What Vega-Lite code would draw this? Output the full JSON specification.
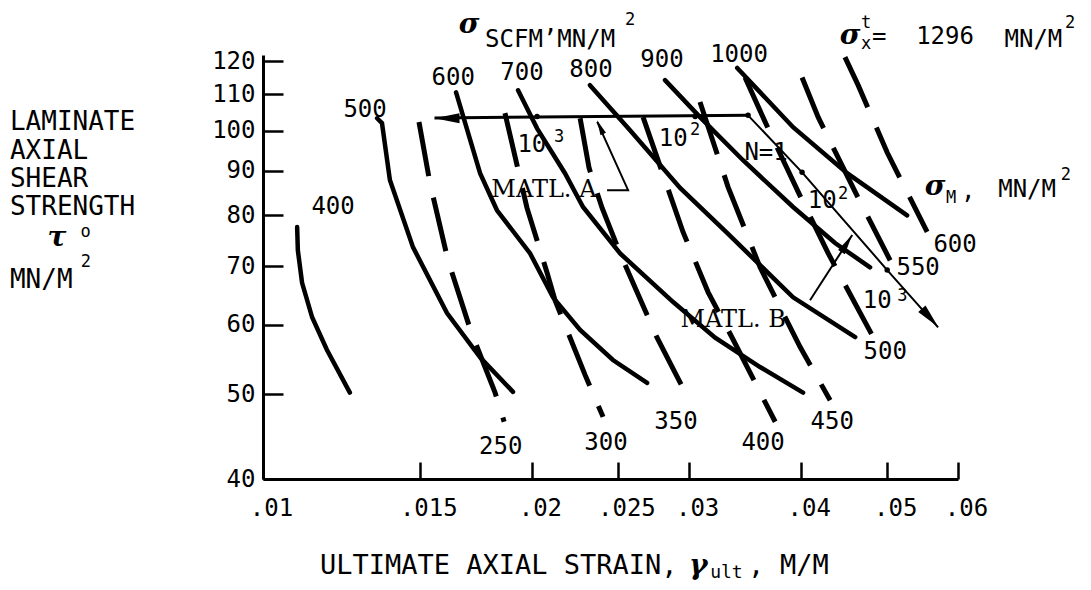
{
  "$schema": "https://vega.github.io/schema/vega-lite/v6.json",
  "width": 695,
  "height": 424,
  "autosize": {"type": "none"},
  "padding": {"left": 263, "top": 55, "right": 133, "bottom": 111},
  "background": "white",
  "config": {"view": {"stroke": null}, "axis": {"grid": false}},
  "datasets": {
    "scfm": [
      {"id": "400", "x": 0.01092, "y": 77.6}, {"id": "400", "x": 0.01094, "y": 73.0}, {"id": "400", "x": 0.01106, "y": 67.0}, {"id": "400", "x": 0.01135, "y": 61.2}, {"id": "400", "x": 0.01179, "y": 56.2}, {"id": "400", "x": 0.01251, "y": 50.2},
      {"id": "500", "x": 0.01342, "y": 103.3}, {"id": "500", "x": 0.01359, "y": 102.0}, {"id": "500", "x": 0.01387, "y": 87.8}, {"id": "500", "x": 0.01472, "y": 73.6}, {"id": "500", "x": 0.01607, "y": 61.9}, {"id": "500", "x": 0.0175, "y": 55.1}, {"id": "500", "x": 0.01905, "y": 50.3},
      {"id": "600", "x": 0.01645, "y": 110.6}, {"id": "600", "x": 0.0175, "y": 89.4}, {"id": "600", "x": 0.01828, "y": 81.1}, {"id": "600", "x": 0.01991, "y": 72.4}, {"id": "600", "x": 0.02112, "y": 64.5}, {"id": "600", "x": 0.02265, "y": 59.2}, {"id": "600", "x": 0.02465, "y": 54.7}, {"id": "600", "x": 0.02692, "y": 51.5},
      {"id": "700", "x": 0.0193, "y": 111.2}, {"id": "700", "x": 0.02027, "y": 100.6}, {"id": "700", "x": 0.02178, "y": 89.4}, {"id": "700", "x": 0.02282, "y": 81.8}, {"id": "700", "x": 0.02511, "y": 72.4}, {"id": "700", "x": 0.02879, "y": 63.7}, {"id": "700", "x": 0.03208, "y": 58.0}, {"id": "700", "x": 0.03602, "y": 53.7}, {"id": "700", "x": 0.04024, "y": 50.2},
      {"id": "800", "x": 0.02323, "y": 112.7}, {"id": "800", "x": 0.02576, "y": 100.1}, {"id": "800", "x": 0.02931, "y": 86.0}, {"id": "800", "x": 0.03317, "y": 76.2}, {"id": "800", "x": 0.03922, "y": 64.5}, {"id": "800", "x": 0.04603, "y": 58.1},
      {"id": "900", "x": 0.02819, "y": 114.2}, {"id": "900", "x": 0.03085, "y": 103.6}, {"id": "900", "x": 0.03447, "y": 92.5}, {"id": "900", "x": 0.03922, "y": 81.8}, {"id": "900", "x": 0.0437, "y": 74.4}, {"id": "900", "x": 0.04783, "y": 69.8},
      {"id": "1000", "x": 0.03396, "y": 117.9}, {"id": "1000", "x": 0.03922, "y": 100.9}, {"id": "1000", "x": 0.04508, "y": 89.4}, {"id": "1000", "x": 0.05262, "y": 80.0}
    ],
    "sm": [
      {"id": "250", "x": 0.01495, "y": 102.3}, {"id": "250", "x": 0.01538, "y": 87.1}, {"id": "250", "x": 0.01611, "y": 71.1}, {"id": "250", "x": 0.0171, "y": 58.9}, {"id": "250", "x": 0.01819, "y": 50.2}, {"id": "250", "x": 0.01862, "y": 46.5},
      {"id": "300", "x": 0.01866, "y": 104.7}, {"id": "300", "x": 0.01975, "y": 81.6}, {"id": "300", "x": 0.0208, "y": 68.8}, {"id": "300", "x": 0.02123, "y": 64.0}, {"id": "300", "x": 0.02294, "y": 52.6}, {"id": "300", "x": 0.02403, "y": 47.1},
      {"id": "350", "x": 0.02265, "y": 103.3}, {"id": "350", "x": 0.02318, "y": 90.6}, {"id": "350", "x": 0.02397, "y": 81.6}, {"id": "350", "x": 0.02511, "y": 72.4}, {"id": "350", "x": 0.02762, "y": 58.0}, {"id": "350", "x": 0.03007, "y": 49.0},
      {"id": "400", "x": 0.02664, "y": 103.6}, {"id": "400", "x": 0.02953, "y": 76.6}, {"id": "400", "x": 0.0315, "y": 65.4}, {"id": "400", "x": 0.03352, "y": 58.0}, {"id": "400", "x": 0.03745, "y": 46.5},
      {"id": "450", "x": 0.03085, "y": 107.8}, {"id": "450", "x": 0.03317, "y": 86.2}, {"id": "450", "x": 0.03602, "y": 69.8}, {"id": "450", "x": 0.03994, "y": 56.6}, {"id": "450", "x": 0.04315, "y": 49.2},
      {"id": "500", "x": 0.03465, "y": 115.0}, {"id": "500", "x": 0.03677, "y": 100.6}, {"id": "500", "x": 0.04014, "y": 83.3}, {"id": "500", "x": 0.04294, "y": 72.4}, {"id": "500", "x": 0.04821, "y": 58.1},
      {"id": "550", "x": 0.04014, "y": 115.0}, {"id": "550", "x": 0.04184, "y": 103.6}, {"id": "550", "x": 0.04603, "y": 85.1}, {"id": "550", "x": 0.05037, "y": 71.1},
      {"id": "600", "x": 0.04483, "y": 121.3}, {"id": "600", "x": 0.04638, "y": 112.7}, {"id": "600", "x": 0.04999, "y": 94.4}, {"id": "600", "x": 0.05541, "y": 76.6}
    ],
    "arrows": [
      {"id": "A", "x": 0.01556, "y": 103.4}, {"id": "A", "x": 0.03492, "y": 104.1},
      {"id": "B", "x": 0.03492, "y": 104.1}, {"id": "B", "x": 0.04014, "y": 89.6}, {"id": "B", "x": 0.04999, "y": 69.3}, {"id": "B", "x": 0.057, "y": 59.6},
      {"id": "pA", "x": 0.02428, "y": 85.5}, {"id": "pA", "x": 0.02563, "y": 85.5}, {"id": "pA", "x": 0.02367, "y": 102.3},
      {"id": "pB", "x": 0.04097, "y": 64.0}, {"id": "pB", "x": 0.04568, "y": 76.0}
    ],
    "heads": [
      {"id": "hA", "x": 0.01607, "y": 103.3},
      {"id": "hB", "x": 0.05583, "y": 61.1},
      {"id": "hpA", "x": 0.02385, "y": 100.9},
      {"id": "hpB", "x": 0.04504, "y": 74.3}
    ],
    "dots": [
      {"x": 0.03492, "y": 104.1}, {"x": 0.04014, "y": 89.6}, {"x": 0.04999, "y": 69.3}, {"x": 0.02027, "y": 103.8}, {"x": 0.03047, "y": 103.8}
    ],
    "labels": [
      {"t": "400", "x": 0.01198, "y": 81.8, "k": "num"},
      {"t": "500", "x": 0.01301, "y": 105.5, "k": "num"},
      {"t": "600", "x": 0.01633, "y": 114.8, "k": "num"},
      {"t": "700", "x": 0.0195, "y": 116.3, "k": "num"},
      {"t": "800", "x": 0.02329, "y": 117.2, "k": "num"},
      {"t": "900", "x": 0.02797, "y": 120.3, "k": "num"},
      {"t": "1000", "x": 0.03412, "y": 121.9, "k": "num"},
      {"t": "250", "x": 0.01846, "y": 43.5, "k": "num"},
      {"t": "300", "x": 0.02421, "y": 44.0, "k": "num"},
      {"t": "350", "x": 0.029, "y": 46.5, "k": "num"},
      {"t": "400", "x": 0.0363, "y": 44.0, "k": "num"},
      {"t": "450", "x": 0.04338, "y": 46.5, "k": "num"},
      {"t": "500", "x": 0.04973, "y": 55.9, "k": "num"},
      {"t": "550", "x": 0.05414, "y": 69.7, "k": "num"},
      {"t": "600", "x": 0.05955, "y": 74.0, "k": "num"},
      {"t": "N=1", "x": 0.03658, "y": 94.4, "k": "num"},
      {"t": "10", "x": 0.02, "y": 96.2, "k": "num"},
      {"t": "10", "x": 0.02879, "y": 97.8, "k": "num"},
      {"t": "10", "x": 0.04227, "y": 83.1, "k": "num"},
      {"t": "10", "x": 0.04872, "y": 63.8, "k": "num"},
      {"t": "SCFM’MN/M", "x": 0.02096, "y": 126.9, "k": "num"},
      {"t": "=", "x": 0.04898, "y": 127.8, "k": "num"},
      {"t": "1296", "x": 0.05803, "y": 127.8, "k": "num"},
      {"t": "MN/M", "x": 0.07287, "y": 126.9, "k": "num"},
      {"t": ",", "x": 0.06161, "y": 85.1, "k": "num"},
      {"t": "MN/M", "x": 0.0717, "y": 85.5, "k": "num"},
      {"t": "3", "x": 0.02145, "y": 98.3, "k": "sup"},
      {"t": "2", "x": 0.03047, "y": 100.1, "k": "sup"},
      {"t": "2", "x": 0.04462, "y": 84.6, "k": "sup"},
      {"t": "3", "x": 0.05197, "y": 64.7, "k": "sup"},
      {"t": "2", "x": 0.02576, "y": 133.7, "k": "sup"},
      {"t": "t", "x": 0.04736, "y": 132.8, "k": "sup"},
      {"t": "x", "x": 0.04736, "y": 125.6, "k": "sup"},
      {"t": "2", "x": 0.08013, "y": 132.6, "k": "sup"},
      {"t": "M", "x": 0.05895, "y": 83.7, "k": "sup"},
      {"t": "2", "x": 0.07925, "y": 88.9, "k": "sup"},
      {"t": "2", "x": 0.006334, "y": 70.8, "k": "sup"},
      {"t": "o", "x": 0.00633, "y": 76.6, "k": "sup"},
      {"t": "σ", "x": 0.01701, "y": 132.0, "k": "sig"},
      {"t": "σ", "x": 0.04544, "y": 128.2, "k": "sig"},
      {"t": "σ", "x": 0.05656, "y": 86.2, "k": "sig"},
      {"t": "τ", "x": 0.00588, "y": 75.4, "k": "sig"},
      {"t": "γ", "x": 0.03071, "y": 31.8, "k": "sig"},
      {"t": "MATL. A", "x": 0.02063, "y": 85.5, "k": "matl"},
      {"t": "MATL. B", "x": 0.0336, "y": 60.8, "k": "matl"},
      {"t": "LAMINATE", "x": 0.005208, "y": 102.3, "k": "lt"},
      {"t": "AXIAL", "x": 0.005208, "y": 94.9, "k": "lt"},
      {"t": "SHEAR", "x": 0.005208, "y": 88.0, "k": "lt"},
      {"t": "STRENGTH", "x": 0.005208, "y": 81.8, "k": "lt"},
      {"t": "MN/M", "x": 0.005208, "y": 67.5, "k": "lt"},
      {"t": "ULTIMATE AXIAL STRAIN,", "x": 0.01158, "y": 31.8, "k": "xt"},
      {"t": ",", "x": 0.03492, "y": 31.8, "k": "xt"},
      {"t": "M/M", "x": 0.03793, "y": 31.8, "k": "xt"},
      {"t": "ult", "x": 0.03167, "y": 31.2, "k": "xs"}
    ]
  },
  "encoding": {
    "x": {
      "field": "x", "type": "quantitative",
      "scale": {"type": "log", "domain": [0.01, 0.06], "nice": false},
      "axis": {
        "values": [0.01, 0.015, 0.02, 0.025, 0.03, 0.04, 0.05, 0.06],
        "labelExpr": "replace(format(datum.value, '.3~f'), '0.', '.')",
        "title": null, "grid": false,
        "domainColor": "black", "domainWidth": 3,
        "tickColor": "black", "tickWidth": 2.5, "tickSize": -17,
        "labelPadding": 34, "labelOffset": 8,
        "labelFont": "DejaVu Sans Mono", "labelFontSize": 24, "labelColor": "black",
        "labelFlush": false, "labelOverlap": false
      }
    },
    "y": {
      "field": "y", "type": "quantitative",
      "scale": {"type": "log", "domain": [40, 122], "nice": false},
      "axis": {
        "values": [40, 50, 60, 70, 80, 90, 100, 110, 120],
        "format": "d",
        "title": null, "grid": false,
        "domainColor": "black", "domainWidth": 3,
        "tickColor": "black", "tickWidth": 2.5, "tickSize": -20,
        "labelPadding": 28,
        "labelFont": "DejaVu Sans Mono", "labelFontSize": 24, "labelColor": "black",
        "labelFlush": false, "labelOverlap": false
      }
    }
  },
  "layer": [
    {
      "data": {"name": "scfm"},
      "mark": {"type": "line", "stroke": "black", "strokeWidth": 4.5, "strokeCap": "round"},
      "encoding": {"detail": {"field": "id"}, "order": {"value": null}}
    },
    {
      "data": {"name": "sm"},
      "mark": {"type": "line", "stroke": "black", "strokeWidth": 5, "strokeDash": [55, 22]},
      "encoding": {"detail": {"field": "id"}, "order": {"value": null}}
    },
    {
      "data": {"name": "arrows"},
      "transform": [{"filter": "datum.id == 'A'"}],
      "mark": {"type": "line", "stroke": "black", "strokeWidth": 3},
      "encoding": {"detail": {"field": "id"}, "order": {"value": null}}
    },
    {
      "data": {"name": "arrows"},
      "transform": [{"filter": "datum.id != 'A'"}],
      "mark": {"type": "line", "stroke": "black", "strokeWidth": 2},
      "encoding": {"detail": {"field": "id"}, "order": {"value": null}}
    },
    {
      "data": {"name": "heads"},
      "transform": [{"filter": "datum.id == 'hA'"}],
      "mark": {"type": "point", "shape": "M0,-1L0.4,1L-0.4,1Z", "filled": true, "color": "black", "opacity": 1, "size": 625, "angle": -90}
    },
    {
      "data": {"name": "heads"},
      "transform": [{"filter": "datum.id == 'hB'"}],
      "mark": {"type": "point", "shape": "M0,-1L0.4,1L-0.4,1Z", "filled": true, "color": "black", "opacity": 1, "size": 600, "angle": 138}
    },
    {
      "data": {"name": "heads"},
      "transform": [{"filter": "datum.id == 'hpA'"}],
      "mark": {"type": "point", "shape": "M0,-1L0.4,1L-0.4,1Z", "filled": true, "color": "black", "opacity": 1, "size": 225, "angle": -24}
    },
    {
      "data": {"name": "heads"},
      "transform": [{"filter": "datum.id == 'hpB'"}],
      "mark": {"type": "point", "shape": "M0,-1L0.4,1L-0.4,1Z", "filled": true, "color": "black", "opacity": 1, "size": 400, "angle": 32}
    },
    {
      "data": {"name": "dots"},
      "mark": {"type": "point", "shape": "circle", "filled": true, "color": "black", "opacity": 1, "size": 30}
    },
    {
      "data": {"name": "labels"},
      "transform": [{"filter": "datum.k == 'num'"}],
      "mark": {"type": "text", "font": "DejaVu Sans Mono", "fontSize": 24, "color": "black", "align": "center", "baseline": "middle"},
      "encoding": {"text": {"field": "t"}}
    },
    {
      "data": {"name": "labels"},
      "transform": [{"filter": "datum.k == 'sup'"}],
      "mark": {"type": "text", "font": "DejaVu Sans Mono", "fontSize": 17, "color": "black", "align": "center", "baseline": "middle"},
      "encoding": {"text": {"field": "t"}}
    },
    {
      "data": {"name": "labels"},
      "transform": [{"filter": "datum.k == 'sig'"}],
      "mark": {"type": "text", "font": "DejaVu Serif", "fontSize": 28, "fontStyle": "italic", "fontWeight": "bold", "color": "black", "align": "center", "baseline": "middle"},
      "encoding": {"text": {"field": "t"}}
    },
    {
      "data": {"name": "labels"},
      "transform": [{"filter": "datum.k == 'matl'"}],
      "mark": {"type": "text", "font": "DejaVu Serif", "fontSize": 24, "color": "black", "align": "center", "baseline": "middle"},
      "encoding": {"text": {"field": "t"}}
    },
    {
      "data": {"name": "labels"},
      "transform": [{"filter": "datum.k == 'lt'"}],
      "mark": {"type": "text", "font": "DejaVu Sans Mono", "fontSize": 26, "color": "black", "align": "left", "baseline": "middle"},
      "encoding": {"text": {"field": "t"}}
    },
    {
      "data": {"name": "labels"},
      "transform": [{"filter": "datum.k == 'xt'"}],
      "mark": {"type": "text", "font": "DejaVu Sans Mono", "fontSize": 27, "color": "black", "align": "left", "baseline": "middle"},
      "encoding": {"text": {"field": "t"}}
    },
    {
      "data": {"name": "labels"},
      "transform": [{"filter": "datum.k == 'xs'"}],
      "mark": {"type": "text", "font": "DejaVu Sans Mono", "fontSize": 18, "color": "black", "align": "left", "baseline": "middle"},
      "encoding": {"text": {"field": "t"}}
    }
  ]
}
